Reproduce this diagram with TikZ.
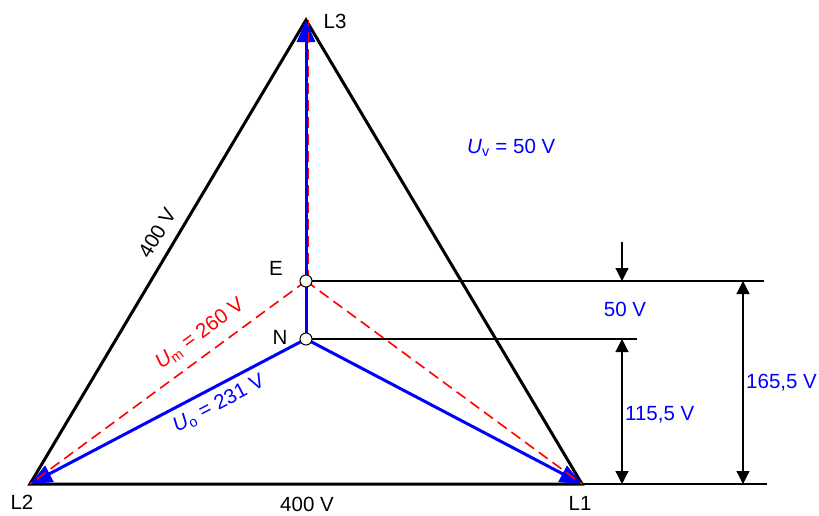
\documentclass[tikz,border=0pt]{standalone}
\usepackage{fontspec}
\setmainfont{Liberation Sans}
\usetikzlibrary{arrows.meta}
\definecolor{vblue}{RGB}{0,0,255}
\definecolor{vred}{RGB}{255,0,0}
\begin{document}
\begin{tikzpicture}[x=1pt,y=-1pt,
  lbl/.style={font=\fontsize{20.5}{24}\selectfont, inner sep=0pt},
  tri/.style={line width=3pt, black, line join=miter},
  phase/.style={line width=3pt, vblue, -{Triangle[length=22pt,width=18pt]}},
  diff/.style={line width=1.6pt, vred, dash pattern=on 11pt off 6pt},
  thin/.style={line width=1.2pt, black},
  dim/.style={line width=1.2pt, black, {Triangle[length=13pt,width=13pt]}-{Triangle[length=13pt,width=13pt]}},
  dimdown/.style={line width=1.2pt, black, -{Triangle[length=13pt,width=13pt]}},
  pt/.style={circle, draw=black, fill=white, line width=1pt, minimum size=12pt, inner sep=0pt}
]
\useasboundingbox (0,0) rectangle (819,515);
% corners
\coordinate (L3) at (306,20);
\coordinate (L2) at (30,484);
\coordinate (L1) at (582,484);
\coordinate (Ep) at (306,281);
\coordinate (Np) at (306,339);
% dimension coordinates
\coordinate (eend) at (764,281);
\coordinate (nend) at (637,339);
\coordinate (bend) at (767,484);
\coordinate (a50top) at (622,242);
\coordinate (a50bot) at (622,281);
\coordinate (a115top) at (622,339);
\coordinate (a115bot) at (622,484);
\coordinate (a165top) at (743,281);
\coordinate (a165bot) at (743,484);
% reference lines
\draw[thin] (Ep) -- (eend);
\draw[thin] (Np) -- (nend);
\draw[thin] (L1) -- (bend);
% triangle
\draw[tri] (L1) -- (L3) -- (L2) -- cycle;
% phase voltages
\draw[phase] (Np) -- (L3);
\draw[phase] (Np) -- (L2);
\draw[phase] (Np) -- (L1);
% fault voltages
\draw[diff] ([xshift=2.5pt]Ep) -- ([xshift=2.5pt]L3);
\draw[diff] (Ep) -- (L2);
\draw[diff] (Ep) -- (L1);
% nodes
\node[pt] (E) at (Ep) {};
\node[pt] (N) at (Np) {};
% dimension arrows
\draw[dimdown] (a50top) -- (a50bot);
\draw[dim] (a115top) -- (a115bot);
\draw[dim] (a165top) -- (a165bot);
% labels
\node[lbl] (tL3) at (335,21) {L3};
\node[lbl] (tL2) at (22,502) {L2};
\node[lbl] (tL1) at (580,503) {L1};
\node[lbl] (tE) at (276,268) {E};
\node[lbl] (tN) at (280,337) {N};
\node[lbl] (tbase) at (307,504) {400 V};
\node[lbl, rotate=59.3] (tleft) at (157,233) {400 V};
\node[lbl, text=vblue, anchor=west] (tUv) at (467,148) {\textit{U}\textsubscript{v} = 50 V};
\node[lbl, text=vred, rotate=36.3] (tUm) at (200,334) {\textit{U}\textsubscript{m} = 260 V};
\node[lbl, text=vblue, rotate=27.8] (tUo) at (219,404) {\textit{U}\textsubscript{o} = 231 V};
\node[lbl, text=vblue] (t50) at (625,309) {50 V};
\node[lbl, text=vblue, anchor=west] (t115) at (625,415) {115,5 V};
\node[lbl, text=vblue, anchor=west] (t165) at (746,383) {165,5 V};
\end{tikzpicture}
\end{document}
